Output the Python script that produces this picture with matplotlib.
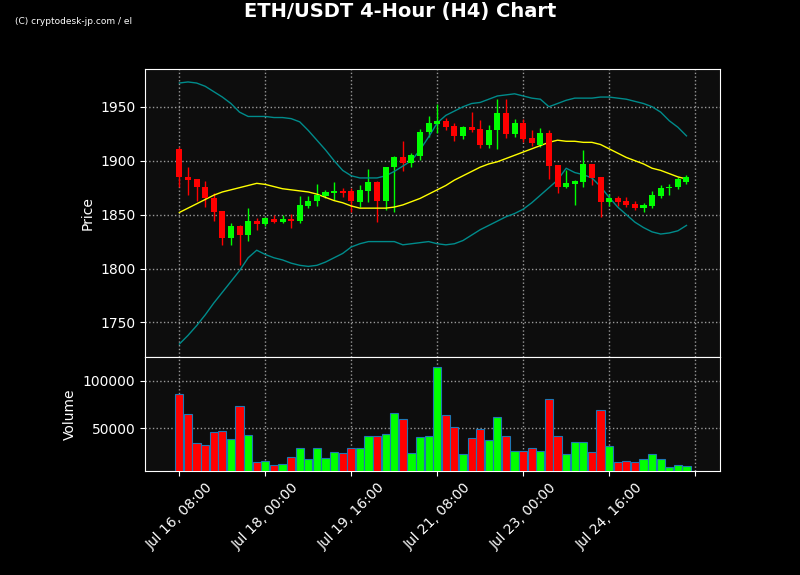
import matplotlib
matplotlib.use("Agg")
import matplotlib.pyplot as plt
import numpy as np

opens  = [1911,1885,1883,1876,1865,1853,1828,1839,1831,1844,1841,1846,1843,1846,1844,1858,1863,1867,1870,1872,
          1872,1862,1872,1880,1863,1894,1903,1898,1904,1927,1934,1937,1932,1923,1931,1929,1915,1928,1944,1925,
          1935,1921,1915,1926,1896,1876,1878,1880,1897,1885,1862,1865,1863,1860,1856,1858,1867,1875,1876,1880]
closes = [1885,1882,1876,1865,1852,1828,1839,1831,1844,1841,1847,1843,1846,1844,1859,1863,1868,1871,1872,1870,
          1863,1873,1880,1863,1894,1903,1898,1905,1927,1935,1937,1931,1923,1931,1928,1915,1928,1944,1925,1935,
          1920,1916,1926,1895,1876,1879,1881,1897,1884,1862,1865,1862,1859,1856,1859,1868,1875,1876,1883,1885]
highs  = [1913,1894,1883,1881,1870,1853,1842,1840,1856,1847,1848,1850,1850,1851,1867,1867,1878,1873,1880,1875,
          1875,1877,1892,1881,1894,1904,1918,1907,1929,1941,1953,1940,1935,1932,1945,1938,1933,1957,1957,1939,
          1939,1928,1930,1928,1896,1891,1882,1910,1897,1885,1869,1867,1866,1863,1861,1872,1877,1878,1885,1887]
lows   = [1876,1868,1863,1857,1844,1822,1822,1803,1826,1836,1839,1842,1842,1838,1842,1856,1858,1865,1864,1866,
          1852,1857,1862,1843,1854,1852,1890,1894,1901,1922,1926,1928,1918,1920,1927,1912,1912,1911,1921,1922,
          1917,1914,1913,1883,1870,1875,1859,1876,1877,1848,1858,1858,1857,1854,1852,1856,1865,1868,1874,1878]
bb_mid = [1852,1856,1860,1864,1868,1871,1873,1875,1877,1879,1878,1876,1874,1873,1872,1871,1869,1866,1863,1861,
          1858,1856,1856,1856,1856,1857,1859,1862,1865,1869,1873,1877,1882,1886,1890,1894,1897,1899,1902,1905,
          1908,1911,1914,1917,1919,1918,1918,1917,1917,1915,1911,1907,1903,1900,1897,1893,1891,1888,1885,1883]
bb_up  = [1972,1973,1972,1969,1964,1959,1953,1945,1941,1941,1941,1940,1940,1939,1936,1928,1919,1910,1900,1891,
          1886,1884,1884,1884,1886,1890,1895,1900,1910,1922,1935,1942,1946,1950,1953,1954,1957,1960,1961,1962,
          1960,1958,1957,1950,1953,1956,1958,1958,1958,1959,1959,1958,1957,1955,1953,1950,1945,1937,1931,1923]
bb_low = [1730,1738,1747,1757,1768,1778,1788,1798,1810,1817,1813,1810,1808,1805,1803,1802,1803,1806,1810,1814,
          1820,1823,1825,1825,1825,1825,1822,1823,1824,1825,1823,1822,1823,1826,1831,1836,1840,1844,1848,1851,
          1855,1861,1868,1875,1882,1893,1889,1887,1884,1876,1866,1857,1850,1843,1838,1834,1832,1833,1835,1840]
volumes = [86000,65000,34000,32000,46000,47000,38000,73000,43000,14000,15000,11000,12000,19000,29000,17000,29000,18000,24000,23000,
           29000,29000,41000,42000,44000,66000,60000,23000,40000,41000,115000,64000,51000,22000,39000,49000,37000,62000,42000,26000,
           26000,29000,26000,81000,41000,22000,35000,35000,24000,69000,31000,14000,15000,14000,17000,22000,17000,9000,11000,10000]
tick_labels = ["Jul 16, 08:00","Jul 18, 00:00","Jul 19, 16:00","Jul 21, 08:00","Jul 23, 00:00","Jul 24, 16:00",""]

n = len(opens)
x = np.arange(n)
o = np.array(opens); c = np.array(closes)
up = c >= o
cols = np.where(up, "#00ff00", "#ff0000")

fig = plt.figure(figsize=(8, 5.75), dpi=100, facecolor="black")
ax = fig.add_axes([145/800, 1-357/575, 575/800, 288/575])
axv = fig.add_axes([145/800, 1-471/575, 575/800, 114/575], sharex=ax)
for a in (ax, axv):
    a.set_facecolor("#0d0d0d")
    a.grid(True, color="#999999", linestyle=":", linewidth=1)
    a.tick_params(colors="white", labelsize=10)
    for s in a.spines.values():
        s.set_color("white")

ax.vlines(x, lows, highs, colors=cols, linewidth=1, zorder=2)
ax.bar(x, np.abs(c-o), bottom=np.minimum(o, c), width=0.7, color=cols, zorder=3)
ax.plot(x, bb_mid, color="#ffff00", linewidth=1, zorder=2)
ax.plot(x, bb_up, color="#008b8b", linewidth=1, zorder=2)
ax.plot(x, bb_low, color="#008b8b", linewidth=1, zorder=2)
ax.set_ylim(1718, 1985)
ax.set_xlim(-4, 62.9)
ax.set_ylabel("Price", color="white", fontsize=10)
plt.setp(ax.get_xticklabels(), visible=False)

axv.bar(x, volumes, width=0.95, color=cols, edgecolor="#1f77b4", linewidth=0.8, zorder=3)
axv.set_ylim(4300, 125500)
axv.set_yticks([50000, 100000])
axv.set_ylabel("Volume", color="white", fontsize=10)
axv.set_xticks(np.arange(0, 61, 10))
axv.set_xticklabels(tick_labels, rotation=45, ha="center")

fig.text(0.5, 1-11/575, "ETH/USDT 4-Hour (H4) Chart", color="white", fontsize=14,
         fontweight="bold", ha="center", va="center")
fig.text(15/800, 1-21/575, "(C) cryptodesk-jp.com / el", color="white", fontsize=6.5, va="center")
fig.savefig("out.png", dpi=100, facecolor="black")
